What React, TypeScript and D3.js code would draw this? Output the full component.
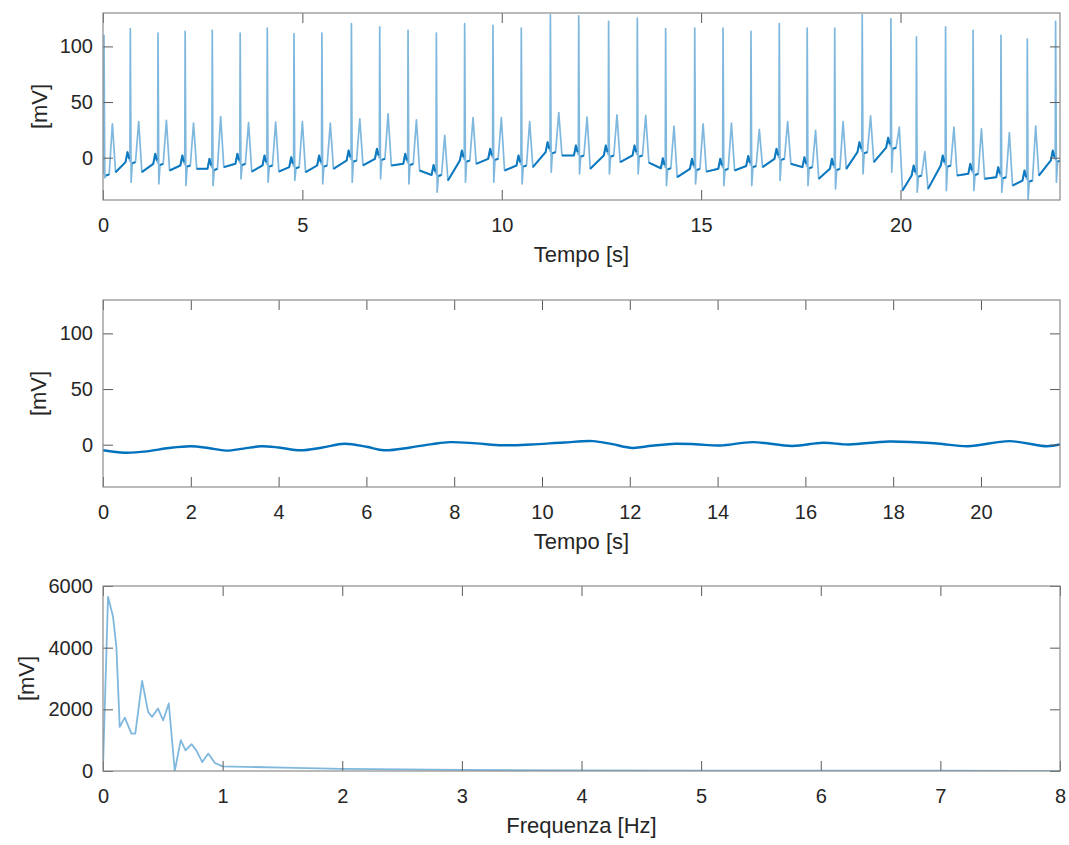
import React, { useEffect, useRef } from "react";
import * as d3 from "d3";

// top panel: one entry per heartbeat (time in s, levels in mV)
const beatTimes = [0.025, 0.685, 1.38, 2.06, 2.74, 3.44, 4.12, 4.79, 5.49, 6.23, 6.94, 7.65, 8.36, 9.07, 9.78, 10.49, 11.22, 11.93, 12.68, 13.4, 14.11, 14.84, 15.55, 16.25, 16.96, 17.66, 18.35, 19.04, 19.76, 20.4, 21.13, 21.82, 22.52, 23.18, 23.89];
const rPeaks = [110, 116, 112, 113.5, 114.5, 112, 116.5, 111.5, 112, 120.5, 117.5, 114.5, 112, 120.5, 119, 116.5, 128.5, 127.5, 122.5, 125.5, 116, 116.5, 116.5, 113.5, 120.5, 116.5, 116.5, 128.5, 125, 108.5, 117.5, 114.5, 110, 106.5, 122.5];
const sTroughs = [-18, -22, -23.5, -25, -25, -19, -22, -20.5, -23.5, -22, -19, -23.5, -31, -22, -22, -23.5, -13, -14.5, -14.5, -14.5, -25, -23.5, -25, -25, -20.5, -25, -28, -14.5, -13, -31, -29.5, -29.5, -31, -38, -22];
const tPeaks = [30.5, 32.5, 33.5, 31, 37, 31.5, 32, 32.5, 31, 35, 39.5, 34, 20, 36, 36, 32.5, 40.5, 36.5, 38.5, 38, 28.5, 30.5, 31, 25.5, 32.5, 24.5, 32.5, 37.5, 27.5, 5.5, 27.5, 26, 22.5, 28.5, 30];
const preLevels = [-12, -1, -2.5, -4, -7, -2.5, -4, -5.5, -4, 0.5, 2, -2.5, -12.5, 0.5, 2, -4, 8, 5, 5, 5, -6.5, -7, -7, -4.5, 2, -5.5, -7, 8, 12, -13, -4, -11.5, -14.5, -17.5, 0.5];
const postLevels = [-13, -13, -11.5, -10, -8.5, -12.5, -12.5, -13, -10, -7, -7, -11.5, -20.5, -5.5, -11.5, -8.5, 2, -10, -4, -4.5, -17.5, -12.5, -11.5, -8.5, -5.5, -19, -10, -4, -29.5, -28, -16, -19, -25, -16, -10];
// where each beat's landmarks sit relative to its R peak (s)
const beatShapeOffsets = [-0.12, -0.07, -0.03, -0.01, 0, 0.02, 0.05, 0.13, 0.21, 0.29];

// middle panel: baseline wander
const baselineTimes = [0, 0.5, 1.0, 1.5, 2.0, 2.4, 2.8, 3.2, 3.6, 4.0, 4.5, 5.0, 5.5, 6.0, 6.4, 7.0, 7.5, 7.9, 8.5, 9.1, 9.75, 10.5, 11.16, 11.6, 12.06, 12.5, 13.04, 13.5, 14.06, 14.8, 15.7, 16.4, 17.0, 17.9, 19.0, 19.7, 20.65, 21.5, 21.8];
const baselineValues = [-5, -7.2, -6, -3, -1.4, -3, -5.3, -3.5, -1.4, -2.5, -5, -2.5, 0.8, -1.8, -5, -2.5, 0.5, 2.3, 1.2, -0.5, 0.2, 2.0, 3.2, 0.5, -2.9, -1, 0.8, 0.4, -0.7, 2.3, -1.1, 1.7, 0.2, 2.9, 1.1, -1.4, 3.2, -1.4, 0.2];

// bottom panel: spectrum
const freqs = [0, 0.042, 0.084, 0.112, 0.14, 0.182, 0.238, 0.27, 0.327, 0.377, 0.41, 0.46, 0.503, 0.55, 0.6, 0.65, 0.69, 0.74, 0.78, 0.83, 0.88, 0.935, 1.0, 1.5, 2.0, 3.0, 4.0, 5.0, 6.0, 7.0, 8.0];
const amps = [100, 5650, 5000, 4030, 1430, 1730, 1215, 1215, 2920, 1915, 1755, 2025, 1645, 2190, 0, 1000, 670, 870, 670, 290, 565, 260, 150, 110, 70, 35, 20, 15, 10, 8, 5];

const ecgTicksX = [0, 5, 10, 15, 20];
const baseTicksX = [0, 2, 4, 6, 8, 10, 12, 14, 16, 18, 20];
const specTicksX = [0, 1, 2, 3, 4, 5, 6, 7, 8];
const mvTicks = [0, 50, 100];
const specTicksY = [0, 2000, 4000, 6000];

const FONT = "'Liberation Sans', Arial, Helvetica, sans-serif";
const BLUE = "#0072BD";

function App() {
  const ref = useRef<SVGSVGElement>(null);

  useEffect(() => {
    const svg = d3.select(ref.current);
    svg.selectAll("*").remove();

    const left = 103;
    const right = 1060;

    // build ECG trace from the beat table
    const ecg: [number, number][] = [[0, preLevels[0] - 2]];
    const flats: [number, number][][] = [];
    beatTimes.forEach((tR, i) => {
      const pre = preLevels[i];
      const levels = [pre - 3, pre + 6, pre, pre - 2, rPeaks[i], sTroughs[i], pre - 4, pre - 3, tPeaks[i], postLevels[i]];
      beatShapeOffsets.forEach((o, k) => {
        if (tR + o >= 0) ecg.push([tR + o, levels[k]]);
      });
      flats.push([[tR + 0.05, pre - 4], [tR + 0.13, pre - 3]]);
      if (i < beatTimes.length - 1) {
        const nPre = preLevels[i + 1];
        const tn = beatTimes[i + 1];
        flats.push([[tR + 0.29, postLevels[i]], [tn - 0.12, nPre - 3], [tn - 0.07, nPre + 6], [tn - 0.03, nPre]]);
      }
    });

    const panels = [
      {
        top: 13, height: 187, xDomain: [0, 24], yDomain: [-38, 130],
        xTicks: ecgTicksX, yTicks: mvTicks, xLabel: "Tempo [s]", labelX: 39,
      },
      {
        top: 300, height: 187, xDomain: [0, 21.8], yDomain: [-38, 130],
        xTicks: baseTicksX, yTicks: mvTicks, xLabel: "Tempo [s]", labelX: 38,
      },
      {
        top: 586, height: 185, xDomain: [0, 8], yDomain: [0, 6000],
        xTicks: specTicksX, yTicks: specTicksY, xLabel: "Frequenza [Hz]", labelX: 26,
      },
    ];

    panels.forEach((p, idx) => {
      const x = d3.scaleLinear().domain(p.xDomain).range([left, right]);
      const y = d3.scaleLinear().domain(p.yDomain).range([p.top + p.height, p.top]);
      const g = svg.append("g");

      g.append("clipPath")
        .attr("id", "clip" + idx)
        .append("rect")
        .attr("x", left)
        .attr("y", p.top)
        .attr("width", right - left)
        .attr("height", p.height);

      const line = d3.line<[number, number]>().x(d => x(d[0])).y(d => y(d[1]));
      const plot = g.append("g").attr("clip-path", `url(#clip${idx})`);

      if (idx === 0) {
        plot.append("path")
          .datum(ecg)
          .attr("d", line)
          .attr("fill", "none")
          .attr("stroke", BLUE)
          .attr("stroke-opacity", 0.5)
          .attr("stroke-width", 1.7)
          .attr("stroke-linejoin", "round");
        flats.forEach(seg => {
          plot.append("path")
            .datum(seg)
            .attr("d", line)
            .attr("fill", "none")
            .attr("stroke", BLUE)
            .attr("stroke-opacity", 0.9)
            .attr("stroke-width", 2)
            .attr("stroke-linejoin", "round");
        });
      } else if (idx === 1) {
        const smooth = d3.line<number>()
          .x((d, i) => x(baselineTimes[i]))
          .y(d => y(d))
          .curve(d3.curveCatmullRom);
        plot.append("path")
          .datum(baselineValues)
          .attr("d", smooth)
          .attr("fill", "none")
          .attr("stroke", BLUE)
          .attr("stroke-width", 2.4);
      } else {
        const spec = d3.line<number>().x((d, i) => x(freqs[i])).y(d => y(d));
        plot.append("path")
          .datum(amps)
          .attr("d", spec)
          .attr("fill", "none")
          .attr("stroke", BLUE)
          .attr("stroke-opacity", 0.5)
          .attr("stroke-width", 1.8)
          .attr("stroke-linejoin", "round");
      }

      // ticks inward on all four sides
      const bottom = p.top + p.height;
      const fmt = d3.format("d");
      const axB = g.append("g").attr("transform", `translate(0,${bottom})`)
        .call(d3.axisBottom(x).tickValues(p.xTicks).tickSize(-10).tickSizeOuter(0).tickPadding(18).tickFormat(d => fmt(+d)));
      const axT = g.append("g").attr("transform", `translate(0,${p.top})`)
        .call(d3.axisTop(x).tickValues(p.xTicks).tickSize(-10).tickSizeOuter(0).tickFormat(() => ""));
      const axL = g.append("g").attr("transform", `translate(${left},0)`)
        .call(d3.axisLeft(y).tickValues(p.yTicks).tickSize(-10).tickSizeOuter(0).tickPadding(10).tickFormat(d => fmt(+d)));
      const axR = g.append("g").attr("transform", `translate(${right},0)`)
        .call(d3.axisRight(y).tickValues(p.yTicks).tickSize(-10).tickSizeOuter(0).tickFormat(() => ""));

      [axB, axT, axL, axR].forEach(a => {
        a.select(".domain").remove();
        a.selectAll(".tick line").attr("stroke", "#5a5a5a").attr("stroke-width", 1);
        a.selectAll("text")
          .attr("fill", "#262626")
          .style("font-family", FONT)
          .style("font-size", "20px");
      });

      g.append("rect")
        .attr("x", left)
        .attr("y", p.top)
        .attr("width", right - left)
        .attr("height", p.height)
        .attr("fill", "none")
        .attr("stroke", "#8c8c8c")
        .attr("stroke-width", 1.2);

      g.append("text")
        .attr("x", (left + right) / 2)
        .attr("y", bottom + 62)
        .attr("text-anchor", "middle")
        .attr("fill", "#262626")
        .style("font-family", FONT)
        .style("font-size", "22px")
        .text(p.xLabel);

      g.append("text")
        .attr("transform", `translate(${p.labelX},${p.top + p.height / 2}) rotate(-90)`)
        .attr("text-anchor", "middle")
        .attr("dominant-baseline", "central")
        .attr("fill", "#262626")
        .style("font-family", FONT)
        .style("font-size", "22px")
        .text("[mV]");
    });
  }, []);

  return (
    <svg
      ref={ref}
      width={1069}
      height={845}
      style={{ position: "absolute", left: 0, top: 0, background: "#fff" }}
    />
  );
}

export default App;
